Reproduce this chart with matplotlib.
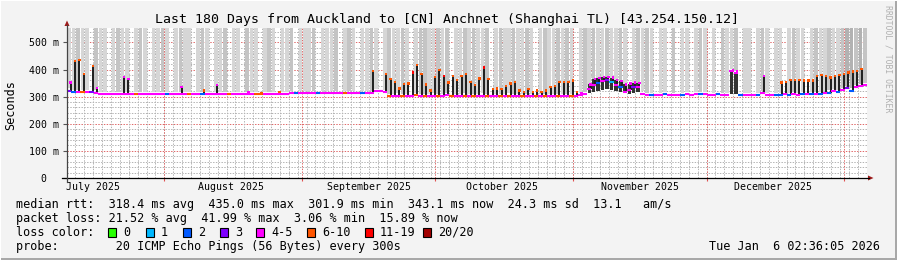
"""SmokePing style 180 day RTT chart, Auckland -> Anchnet Shanghai."""
import datetime as dt

import matplotlib
matplotlib.use("Agg")
import matplotlib.dates as mdates
import matplotlib.pyplot as plt
import numpy as np
from matplotlib.lines import Line2D
from matplotlib.patches import Polygon, Rectangle

W, H = 897, 260
MONO = "DejaVu Sans Mono"

TITLE = "Last 180 Days from Auckland to [CN] Anchnet (Shanghai TL) [43.254.150.12]"
START = dt.datetime(2025, 7, 10, 2, 36, 5)
END = dt.datetime(2026, 1, 6, 2, 36, 5)

# one value per day from START: baseline median and the daily (evening) peak median, ms
rtt_low = [
    322, 318, 316, 318, 316, 317, 315, 310, 309, 309,
    309, 309, 309, 309, 309, 309, 309, 309, 309, 309,
    309, 309, 309, 309, 309, 309, 309, 309, 309, 309,
    309, 309, 309, 309, 309, 309, 309, 309, 309, 309,
    309, 309, 309, 309, 309, 309, 309, 309, 309, 309,
    312, 313, 313, 314, 314, 314, 314, 314, 314, 314,
    314, 314, 314, 314, 314, 314, 314, 314, 314, 319,
    319, 316, 303, 302, 304, 303, 301, 303, 305, 302,
    303, 301, 304, 302, 303, 305, 302, 301, 303, 304,
    302, 303, 301, 304, 303, 302, 301, 303, 302, 304,
    303, 301, 302, 303, 301, 302, 303, 301, 302, 303,
    302, 301, 303, 302, 304, 306, 310, 328, 344, 352,
    358, 361, 353, 344, 335, 318, 325, 334, 336, 311,
    307, 307, 306, 307, 308, 307, 307, 306, 307, 308,
    307, 308, 309, 308, 307, 307, 308, 307, 307, 393,
    386, 307, 307, 306, 307, 307, 312, 307, 307, 307,
    307, 308, 307, 308, 307, 308, 309, 308, 310, 309,
    312, 315, 320, 318, 325, 330, 322, 335, 340, 343,
]
rtt_peak = [
    352, 432, 435, 384, 316, 413, 331, 310, 309, 309,
    309, 309, 372, 366, 309, 309, 309, 309, 309, 309,
    309, 309, 309, 309, 309, 335, 309, 309, 309, 309,
    322, 309, 309, 343, 309, 309, 309, 309, 309, 309,
    318, 309, 309, 314, 309, 309, 309, 316, 309, 309,
    312, 313, 313, 314, 314, 314, 314, 314, 314, 314,
    314, 314, 314, 314, 314, 314, 314, 314, 394, 319,
    319, 383, 364, 355, 330, 346, 349, 389, 416, 383,
    344, 322, 373, 398, 377, 352, 377, 361, 377, 383,
    355, 342, 367, 408, 364, 328, 330, 328, 340, 349,
    355, 322, 316, 328, 317, 322, 317, 322, 335, 340,
    353, 355, 353, 360, 317, 313, 310, 345, 365, 368,
    372, 372, 370, 362, 358, 345, 348, 352, 350, 311,
    307, 307, 306, 307, 308, 307, 307, 306, 307, 308,
    307, 308, 309, 308, 307, 307, 308, 307, 307, 398,
    392, 307, 307, 306, 307, 307, 375, 307, 307, 307,
    352, 355, 362, 362, 362, 359, 359, 359, 377, 379,
    377, 371, 377, 379, 383, 389, 392, 395, 401, 343,
]
# days where the whole day sits on a raised plateau, with the floor of the dark smoke
plateau_days = [117, 118, 119, 120, 121, 122, 123, 124, 125, 126, 127, 128, 149, 150]
plateau_floor = [312, 318, 322, 325, 328, 326, 322, 318, 312, 310, 314, 318, 309, 309]
# loss colour class (index into loss_colors) for the baseline and for the peak
loss_low = [
    3, 2, 4, 5, 4, 3, 4, 4, 4, 4,
    4, 4, 4, 4, 4, 5, 4, 4, 4, 4,
    4, 4, 2, 4, 4, 4, 4, 5, 4, 4,
    2, 4, 4, 4, 4, 4, 5, 4, 4, 4,
    4, 4, 5, 5, 4, 4, 4, 4, 4, 4,
    4, 2, 4, 4, 4, 4, 2, 4, 4, 4,
    4, 4, 5, 4, 4, 4, 2, 4, 4, 4,
    4, 4, 5, 4, 4, 5, 4, 4, 5, 4,
    5, 4, 4, 5, 4, 4, 5, 4, 4, 5,
    4, 5, 4, 4, 5, 4, 4, 5, 4, 5,
    4, 4, 5, 4, 4, 5, 4, 5, 4, 4,
    5, 4, 4, 5, 4, 4, 4, 4, 4, 2,
    4, 3, 1, 4, 2, 4, 4, 3, 4, 4,
    4, 2, 4, 4, 2, 4, 4, 4, 2, 4,
    4, 4, 2, 4, 4, 4, 2, 4, 4, 4,
    4, 2, 4, 4, 4, 2, 4, 4, 4, 2,
    2, 4, 2, 4, 4, 2, 4, 2, 4, 2,
    4, 2, 4, 2, 4, 3, 2, 4, 4, 4,
]
loss_peak = [
    4, 5, 5, 5, 4, 5, 4, 4, 4, 4,
    4, 4, 4, 4, 4, 5, 4, 4, 4, 4,
    4, 4, 2, 4, 4, 4, 4, 5, 4, 4,
    5, 4, 4, 4, 4, 4, 5, 4, 4, 4,
    4, 4, 5, 5, 4, 4, 4, 5, 4, 4,
    4, 2, 4, 4, 4, 4, 2, 4, 4, 4,
    4, 4, 5, 4, 4, 4, 2, 4, 5, 4,
    4, 5, 5, 5, 5, 5, 5, 6, 5, 5,
    5, 5, 5, 5, 6, 5, 5, 5, 5, 5,
    5, 5, 5, 6, 5, 5, 5, 5, 5, 5,
    5, 5, 5, 5, 5, 5, 5, 5, 5, 5,
    5, 5, 5, 5, 5, 4, 4, 4, 4, 4,
    4, 4, 4, 4, 4, 4, 4, 4, 4, 4,
    4, 2, 4, 4, 2, 4, 4, 4, 2, 4,
    4, 4, 2, 4, 4, 4, 2, 4, 4, 4,
    4, 2, 4, 4, 4, 2, 4, 4, 4, 2,
    5, 5, 5, 5, 5, 5, 5, 5, 5, 5,
    5, 5, 5, 5, 5, 5, 5, 5, 5, 4,
]
# smoke from slow pings going off the top of the graph: 0 none, 1..3 light..dark
smoke_band = (
    [1, 1, 2, 1, 1, 0, 2, 1, 1, 0, 1, 2, 1, 1, 0, 1, 2, 1, 0, 1, 1, 2]
    + [1, 0, 1, 2, 1, 1, 0, 1, 2, 1, 0, 1, 1, 2, 0, 1, 1, 0, 2, 1, 1, 0, 1, 2, 1, 0, 1, 1, 2, 0, 1]
    + [1, 1, 2, 0, 1, 1, 1, 2, 0, 1, 2, 1, 0, 1, 1, 2, 1, 0]
    + [1, 2, 1, 1, 2, 1, 0, 1, 2, 2, 1, 1, 2, 1, 2, 0, 1, 1, 2, 1, 2, 1, 1, 2, 0,
       1, 2, 1, 1, 2, 1, 1, 2, 1, 0, 1, 2, 1, 1, 2, 1, 2, 1, 0, 1, 2, 1]
    + [2, 1, 1, 2, 1, 1, 2, 1, 0, 1, 2, 1]
    + [2, 1, 0, 1, 1, 0, 2, 0, 1, 1, 0, 1, 2, 1, 0, 1, 0, 2, 1, 1, 2]
    + [0, 1, 1, 0, 1, 2, 1, 0, 1, 1, 0]
    + [1, 2, 1, 1, 0, 1, 2, 1, 1, 2, 1, 1, 2, 3, 3, 2, 3, 2]
)

loss_colors = ["#26ff00", "#00b8ff", "#0059ff", "#7e00ff", "#ff00ff", "#ff5500", "#ff0000", "#a10000"]
loss_labels = ["0", "1", "2", "3", "4-5", "6-10", "11-19", "20/20"]
band_colors = [None, "#d6d6d6", "#c4c4c4", "#b2b2b2"]

month_labels = ["July 2025", "August 2025", "September 2025", "October 2025", "November 2025", "December 2025"]
month_label_dates = [dt.datetime(2025, m, 16) for m in range(7, 13)]
month_starts = [dt.datetime(2025, m, 1) for m in range(8, 13)] + [dt.datetime(2026, 1, 1)]
y_ticks = [0, 100, 200, 300, 400, 500]
y_tick_labels = ["0  ", "100 m", "200 m", "300 m", "400 m", "500 m"]

legend_rows = [
    "median rtt:  318.4 ms avg  435.0 ms max  301.9 ms min  343.1 ms now  24.3 ms sd  13.1   am/s",
    "packet loss: 21.52 % avg  41.99 % max  3.06 % min  15.89 % now",
    "loss color:",
    "probe:        20 ICMP Echo Pings (56 Bytes) every 300s",
]
STAMP = "Tue Jan  6 02:36:05 2026"


def fx(x):
    return x / W


def fy(y):
    return 1 - y / H


def main():
    low = np.array(rtt_low, float)
    peak = np.array(rtt_peak, float)
    band = np.array(smoke_band)
    n = len(low)
    x0 = mdates.date2num(START) + np.arange(n)

    fig = plt.figure(figsize=(W / 100, H / 100), dpi=100, facecolor="#f3f3f3")
    ax = fig.add_axes([fx(67), fy(178), 800 / W, 150 / H])
    ax.set_facecolor("white")
    ymax = 553
    ax.set_xlim(mdates.date2num(START), mdates.date2num(END))
    ax.set_ylim(0, ymax)
    for s in ax.spines.values():
        s.set_visible(False)

    # rrdtool style dotted grid
    grid = dict(lw=0.72, ls=(0, (1.4, 1.4)), zorder=0)
    for v in range(20, ymax, 20):
        if v % 100:
            ax.axhline(v, color="#b4b4b4", **grid)
    for v in y_ticks[1:]:
        ax.axhline(v, color="#e06a6a", **grid)
    minor_days = mdates.date2num(dt.datetime(2025, 7, 12)) + np.arange(0, 180, 2)
    for d in minor_days:
        ax.axvline(d, color="#b4b4b4", **grid)
    for d in month_starts:
        ax.axvline(mdates.date2num(d), color="#e06a6a", **grid)

    # smoke bands
    for level in (1, 2, 3):
        sel = band == level
        ax.bar(x0[sel] + 0.5, ymax + 50 - (low[sel] + 8), bottom=low[sel] + 8, width=0.8,
               color=band_colors[level], linewidth=0, zorder=1)

    # raised plateaus: dark smoke over the whole day
    pd_ = np.array(plateau_days)
    floor = np.array(plateau_floor, float)
    ax.bar(x0[pd_] + 0.5, peak[pd_] - floor, bottom=floor, width=0.75,
           color="#333333", linewidth=0, zorder=2)

    # evening spikes: dark smoke from baseline to peak
    spk = peak > low + 3
    ax.vlines(x0[spk] + 0.8, low[spk], peak[spk], color="#1e1e1e", lw=1.4, zorder=2)

    ax.hlines(low, x0, x0 + 1, colors=[loss_colors[i] for i in loss_low], lw=1.5, zorder=3)
    ax.scatter(x0[spk] + 0.8, peak[spk], marker="s", s=3, linewidths=0,
               c=[loss_colors[loss_peak[i]] for i in np.flatnonzero(spk)], zorder=4)

    ax.set_yticks(y_ticks, y_tick_labels)
    ax.tick_params(axis="y", length=3, width=0.8, color="#555555", pad=3, labelsize=7.1)
    for t in ax.get_yticklabels():
        t.set_fontfamily(MONO)
    ax.set_xticks([mdates.date2num(d) for d in month_starts], [])
    ax.tick_params(axis="x", length=2.5, width=0.8, color="#e05050")
    for d, lab in zip(month_label_dates, month_labels):
        ax.text(mdates.date2num(d), -0.063, lab, transform=ax.get_xaxis_transform(),
                ha="center", va="center", fontsize=7.1, family=MONO)

    # axis lines with arrows
    fig.add_artist(Line2D([fx(62), fx(869)], [fy(178), fy(178)], color="black", lw=0.9))
    fig.add_artist(Line2D([fx(67), fx(67)], [fy(182), fy(25)], color="#444444", lw=0.9))
    fig.add_artist(Polygon([[fx(868), fy(175.5)], [fx(873.5), fy(178)], [fx(868), fy(180.5)]],
                           closed=True, color="#9e1a1a", lw=0))
    fig.add_artist(Polygon([[fx(64.5), fy(26)], [fx(67), fy(20.5)], [fx(69.5), fy(26)]],
                           closed=True, color="#9e1a1a", lw=0))

    fig.text(fx(447), fy(19), TITLE, ha="center", va="center", fontsize=9.5, family=MONO)
    fig.text(fx(11), fy(105), "Seconds", rotation=90, ha="center", va="center",
             fontsize=8.5, family=MONO)
    fig.text(fx(888), fy(59), "RRDTOOL / TOBI OETIKER", rotation=270, ha="center",
             va="center", fontsize=5.9, family=MONO, color="#b0b0b0")

    for y, row in zip([204.3, 218.3, 232.3, 246.3], legend_rows):
        fig.text(fx(16), fy(y), row, ha="left", va="center", fontsize=8.5, family=MONO)
    sw_left = [108, 146, 183, 220, 256, 307, 365, 423]
    for xl, col, lab in zip(sw_left, loss_colors, loss_labels):
        fig.add_artist(Rectangle((fx(xl), fy(237)), 8 / W, 9 / H, facecolor=col,
                                 edgecolor="black", lw=0.8))
        fig.text(fx(xl + 15), fy(232.3), lab, ha="left", va="center", fontsize=8.5, family=MONO)
    fig.text(fx(880), fy(246.3), STAMP, ha="right", va="center", fontsize=8.5, family=MONO)

    # 3d frame
    fig.add_artist(Rectangle((0, 0), 1, 2 / H, color="#a8a8a8", lw=0))
    fig.add_artist(Rectangle((1 - 2 / W, 0), 2 / W, 1, color="#a8a8a8", lw=0))
    fig.add_artist(Rectangle((0, 1 - 1 / H), 1, 1 / H, color="#ffffff", lw=0))
    fig.add_artist(Rectangle((0, 0), 1 / W, 1, color="#ffffff", lw=0))

    fig.savefig("out.png", dpi=100, facecolor=fig.get_facecolor())
    plt.close(fig)


if __name__ == "__main__":
    main()
